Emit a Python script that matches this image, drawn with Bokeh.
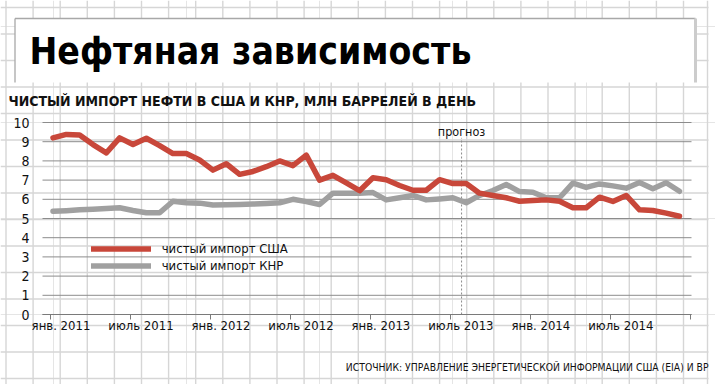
from bokeh.plotting import figure
from bokeh.models import Range1d, LinearAxis, FixedTicker, Legend, LegendItem
from bokeh.core.properties import value
from bokeh.embed import file_html
from bokeh.resources import INLINE

# ---------------- data ----------------
months = list(range(48))  # 0 = янв. 2011 ... 47 = дек. 2014
us_net_imports = [9.20, 9.38, 9.35, 8.85, 8.42, 9.20, 8.85, 9.18, 8.80, 8.38,
                  8.38, 8.05, 7.52, 7.85, 7.30, 7.45, 7.70, 8.00, 7.75, 8.30,
                  7.00, 7.25, 6.85, 6.45, 7.12, 7.02, 6.72, 6.47, 6.47, 7.02,
                  6.82, 6.82, 6.32, 6.20, 6.08, 5.90, 5.94, 5.97, 5.90, 5.56,
                  5.56, 6.11, 5.89, 6.20, 5.45, 5.42, 5.28, 5.12]
china_net_imports = [5.38, 5.41, 5.45, 5.48, 5.52, 5.56, 5.42, 5.30, 5.30, 5.90,
                     5.82, 5.80, 5.70, 5.72, 5.73, 5.75, 5.78, 5.82, 6.00, 5.88,
                     5.73, 6.32, 6.32, 6.32, 6.35, 5.97, 6.08, 6.20, 5.97, 6.02,
                     6.08, 5.82, 6.20, 6.46, 6.77, 6.40, 6.37, 6.08, 6.08, 6.84,
                     6.62, 6.80, 6.70, 6.58, 6.88, 6.55, 6.86, 6.42]
tick_labels = ["янв. 2011", "июль 2011", "янв. 2012", "июль 2012",
               "янв. 2013", "июль 2013", "янв. 2014", "июль 2014"]
y_ticks = list(range(11))
forecast_month = 30.65

title_text = "Нефтяная зависимость"
subtitle_text = "ЧИСТЫЙ ИМПОРТ НЕФТИ В США И КНР, МЛН БАРРЕЛЕЙ В ДЕНЬ"
source_text = "ИСТОЧНИК: УПРАВЛЕНИЕ ЭНЕРГЕТИЧЕСКОЙ ИНФОРМАЦИИ США (EIA) И BP"
legend_us = "чистый импорт США"
legend_cn = "чистый импорт КНР"
forecast_text = "прогноз"

# ---------------- layout ----------------
NARROW = "DejaVu Sans Condensed, Liberation Sans Narrow, sans-serif"
RED = "#c8473a"
GRAY = "#a0a0a0"
W, H = 715, 384
X0, DX = 52.5, 13.33   # page px of month 0, px per month
Y0, DY = 314.0, 19.2   # page px of value 0, px per unit


def mx(sx):
    return (sx - X0) / DX


def my(sy):
    return (Y0 - sy) / DY


p = figure(width=W, height=H, output_backend="svg", toolbar_location=None,
           x_range=Range1d(mx(0), mx(W)), y_range=Range1d(my(H), my(0)),
           x_axis_location=None, y_axis_location=None, min_border=0)
p.min_border_left = p.min_border_right = 0
p.min_border_top = p.min_border_bottom = 0
p.outline_line_color = None
p.background_fill_color = "white"
p.border_fill_color = "white"
p.extra_x_ranges = {"px": Range1d(0, W)}
p.extra_y_ranges = {"py": Range1d(H, 0)}
PX = dict(x_range_name="px", y_range_name="py")

# graph paper background
vx = [5.5 + 27.1 * k for k in range(26)] + [707.0]
p.segment(x0=vx, y0=0, x1=vx, y1=H, line_color="#d6d6d6", line_width=1.4, **PX)
hy = [7 + 26.5 * k for k in range(15)]
p.segment(x0=0, y0=hy, x1=708, y1=hy, line_color="#d6d6d6", line_width=1.4, **PX)

# title box
p.quad(left=14.5, right=695, top=18, bottom=82, fill_color="white", line_color=None, **PX)
p.segment(x0=[14.5, 14.5], y0=[18, 18], x1=[695, 14.5], y1=[18, 82],
          line_color="#a8a8a8", line_width=1.3, **PX)
p.segment(x0=695, y0=18, x1=695, y1=82, line_color="#cccccc", line_width=3, **PX)

p.text(x=[29], y=[51], text=[title_text], text_font=value(NARROW), text_font_style="bold",
       text_font_size="37px", text_baseline="middle", text_color="#000000", **PX)
p.text(x=[8], y=[100.5], text=[subtitle_text], text_font=value(NARROW), text_font_style="bold",
       text_font_size="14px", text_baseline="middle", text_color="#111111", **PX)
p.text(x=[708], y=[366], text=[source_text], text_font=value(NARROW),
       text_font_size="10.3px", text_align="right", text_baseline="middle",
       text_color="#111111", **PX)

# chart gridlines
p.segment(x0=mx(42), x1=mx(691), y0=y_ticks, y1=y_ticks, line_color="#8c8c8c", line_width=1)

# forecast marker
p.segment(x0=[forecast_month], y0=[0], x1=[forecast_month], y1=[9.2],
          line_color="#8a8a8a", line_width=1, line_dash="2 2")
p.text(x=[forecast_month], y=[9.55], text=[forecast_text], text_font=value(NARROW),
       text_font_size="12.5px", text_align="center", text_baseline="middle", text_color="#111111")

# series
cn = p.line(months, china_net_imports, line_color=GRAY, line_width=5.5,
            line_join="round", line_cap="round")
us = p.line(months, us_net_imports, line_color=RED, line_width=5.5,
            line_join="round", line_cap="round")

legend = Legend(items=[LegendItem(label=legend_us, renderers=[us]),
                       LegendItem(label=legend_cn, renderers=[cn])],
                location=(90.7, 110.5), orientation="vertical",
                glyph_width=60, glyph_height=17, label_height=17, spacing=0,
                padding=0, margin=0, label_standoff=11,
                border_line_color=None, background_fill_alpha=0,
                label_text_font=NARROW, label_text_font_size="13px",
                label_text_color="#111111")
p.add_layout(legend)

# axes
yaxis = LinearAxis(fixed_location=mx(42), ticker=FixedTicker(ticks=y_ticks),
                   axis_line_color=None, major_tick_line_color=None,
                   minor_tick_line_color=None, major_label_standoff=7,
                   major_label_text_font=NARROW, major_label_text_font_size="14px",
                   major_label_text_color="#111111")
p.add_layout(yaxis, "left")

label_pos = [6 * k + 0.6 for k in range(len(tick_labels))]
tick_pos = [6 * k - 0.2 for k in range(len(tick_labels) + 1)]
xaxis = LinearAxis(fixed_location=0, bounds=(mx(42), mx(691)),
                   ticker=FixedTicker(ticks=label_pos, minor_ticks=tick_pos),
                   major_label_overrides={pos: lab for pos, lab in zip(label_pos, tick_labels)},
                   axis_line_color="#7a7a7a", axis_line_width=1,
                   major_tick_line_color=None, major_tick_out=0, major_tick_in=0,
                   minor_tick_line_color="#7a7a7a", minor_tick_out=5, minor_tick_in=0,
                   major_label_standoff=-2,
                   major_label_text_font=NARROW, major_label_text_font_size="13px",
                   major_label_text_color="#111111")
p.add_layout(xaxis, "below")

open("out.html", "w").write(file_html(p, INLINE))
